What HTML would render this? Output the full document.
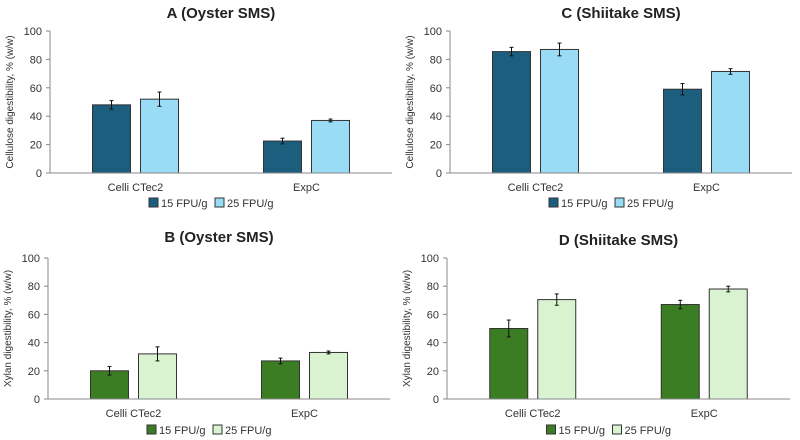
<!DOCTYPE html>
<html><head><meta charset="utf-8">
<style>
html,body{margin:0;padding:0;background:#fff;}
svg{display:block;font-family:"Liberation Sans",Arial,sans-serif;}
</style></head>
<body>
<svg id="fig" width="800" height="440" viewBox="0 0 800 440"></svg>
<script>
const categories = ["Celli CTec2", "ExpC"];
const seriesNames = ["15 FPU/g", "25 FPU/g"];
const yTicks = [0, 20, 40, 60, 80, 100];
const aValues15 = [48, 22.5];
const aValues25 = [52, 37];
const aErr15 = [3, 2];
const aErr25 = [5, 1];
const bValues15 = [20, 27];
const bValues25 = [32, 33];
const bErr15 = [3, 2];
const bErr25 = [5, 1];
const cValues15 = [85.5, 59];
const cValues25 = [87, 71.5];
const cErr15 = [3, 4];
const cErr25 = [4.5, 2];
const dValues15 = [50, 67];
const dValues25 = [70.5, 78];
const dErr15 = [6, 3];
const dErr25 = [4, 2];

const NS = "http://www.w3.org/2000/svg";
const svg = document.getElementById("fig");
function mk(tag, attrs, parent) {
  const e = document.createElementNS(NS, tag);
  for (const k in attrs) e.setAttribute(k, attrs[k]);
  (parent || svg).appendChild(e);
  return e;
}

const panels = [
  {id:"a", title:"A (Oyster SMS)", ylab:"Cellulose digestibility, % (w/w)", x0:50, x1:392, top:31, bot:173, ty:18, cy:191, ly:207, v15:aValues15, v25:aValues25, e15:aErr15, e25:aErr25, c15:"#1b5e7e", c25:"#9adbf5"},
  {id:"c", title:"C (Shiitake SMS)", ylab:"Cellulose digestibility, % (w/w)", x0:450, x1:792, top:31, bot:173, ty:18, cy:191, ly:207, v15:cValues15, v25:cValues25, e15:cErr15, e25:cErr25, c15:"#1b5e7e", c25:"#9adbf5"},
  {id:"b", title:"B (Oyster SMS)", ylab:"Xylan digestibility, % (w/w)", x0:48, x1:390, top:258, bot:399, ty:242, cy:417, ly:434, v15:bValues15, v25:bValues25, e15:bErr15, e25:bErr25, c15:"#3a7d22", c25:"#d9f2d0"},
  {id:"d", title:"D (Shiitake SMS)", ylab:"Xylan digestibility, % (w/w)", x0:447, x1:790, top:258, bot:399, ty:245, cy:417, ly:434, v15:dValues15, v25:dValues25, e15:dErr15, e25:dErr25, c15:"#3a7d22", c25:"#d9f2d0"}
];

panels.forEach(p => {
  const g = mk("g", {});
  
  
  const yS = v => p.bot - (v / 100) * (p.bot - p.top);
  const catW = (p.x1 - p.x0) / categories.length;
  const xC = i => p.x0 + catW * (i + 0.5);
  const barW = 38, gap = 10;

  const t = mk("text", {x:(p.x0 + p.x1) / 2, y:p.ty, "text-anchor":"middle", "font-size":"15", "font-weight":"bold", fill:"#222"}, g);
  t.textContent = p.title;
  
  

  const yl = mk("text", {x:0, y:0, transform:`translate(${p.x0 - 37},${(p.top + p.bot) / 2}) rotate(-90)`, "text-anchor":"middle", "font-size":"10", fill:"#333"}, g);
  yl.textContent = p.ylab;
  
  

  yTicks.forEach(v => {
    const tl = mk("text", {x:p.x0 - 8, y:yS(v) + 4, "text-anchor":"end", "font-size":"11", fill:"#333"}, g);
    tl.textContent = v;
    
    
    mk("line", {x1:p.x0 - 4, x2:p.x0, y1:yS(v), y2:yS(v), stroke:"#888"}, g);
  });
  mk("line", {x1:p.x0, x2:p.x0, y1:p.top, y2:p.bot, stroke:"#888"}, g);

  categories.forEach((c, i) => {
    const cx = xC(i);
    [[p.v15, p.e15, p.c15, -1], [p.v25, p.e25, p.c25, 1]].forEach(([vals, errs, col, side], s) => {
      const x = side < 0 ? cx - gap / 2 - barW : cx + gap / 2;
      const v = vals[i];
      const r = mk("rect", {x:x, y:yS(v), width:barW, height:p.bot - yS(v), fill:col, stroke:"#333", "stroke-width":"1"}, g);
      
      
      const mx = x + barW / 2;
      const e = errs[i];
      mk("line", {x1:mx, x2:mx, y1:yS(v + e), y2:yS(v - e), stroke:"#111", "stroke-width":"1"}, g);
      mk("line", {x1:mx - 2, x2:mx + 2, y1:yS(v + e), y2:yS(v + e), stroke:"#111"}, g);
      mk("line", {x1:mx - 2, x2:mx + 2, y1:yS(v - e), y2:yS(v - e), stroke:"#111"}, g);
    });
    const cl = mk("text", {x:cx, y:p.cy, "text-anchor":"middle", "font-size":"11", fill:"#333"}, g);
    cl.textContent = c;
    
    
  });
  mk("line", {x1:p.x0, x2:p.x1, y1:p.bot, y2:p.bot, stroke:"#888"}, g);

  const lc = (p.x0 + p.x1) / 2;
  [[p.c15, seriesNames[0], lc - 72], [p.c25, seriesNames[1], lc - 6]].forEach(([col, name, lx]) => {
    const lg = mk("g", {}, g);
    
    
    mk("rect", {x:lx, y:p.ly - 9, width:9, height:9, fill:col, stroke:"#333"}, lg);
    const lt = mk("text", {x:lx + 12, y:p.ly, "font-size":"11", fill:"#333"}, lg);
    lt.textContent = name;
  });
});
</script>
</body></html>
